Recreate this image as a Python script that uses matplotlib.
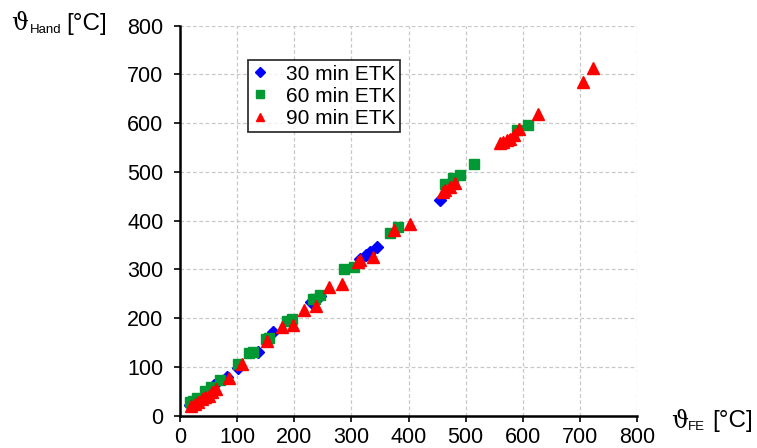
import matplotlib
matplotlib.use("Agg")
import matplotlib.pyplot as plt

plt.rcParams['font.family'] = ['Liberation Sans', 'DejaVu Sans']

# Temperatures: FE calculation (x) vs. hand calculation (y), in degC
etk30_fe = [18, 30, 45, 50, 60, 82, 102, 137, 163, 230, 245, 315, 325, 332, 344, 455]
etk30_hand = [22, 30, 48, 52, 62, 80, 97, 130, 172, 233, 245, 322, 330, 336, 346, 442]

etk60_fe = [17, 22, 30, 44, 55, 70, 102, 120, 128, 150, 155, 187, 196, 232, 236, 245,
            287, 305, 368, 382, 464, 478, 490, 514, 590, 610]
etk60_hand = [27, 30, 35, 51, 58, 72, 106, 128, 130, 158, 160, 195, 199, 240, 240, 247,
              300, 305, 375, 386, 475, 487, 494, 516, 586, 597]

etk90_fe = [20, 26, 32, 38, 44, 50, 56, 63, 86, 108, 152, 178, 198, 217, 238, 260,
            283, 312, 315, 337, 374, 402, 461, 463, 473, 482, 560, 566, 572, 578, 584,
            594, 627, 705, 723]
etk90_hand = [20, 24, 28, 34, 38, 41, 48, 55, 76, 106, 152, 182, 185, 217, 224, 263,
              270, 315, 319, 326, 381, 393, 459, 463, 470, 477, 559, 562, 566, 568, 576,
              588, 619, 684, 713]

series_labels = ['30 min ETK', '60 min ETK', '90 min ETK']
ticks = [0, 100, 200, 300, 400, 500, 600, 700, 800]

fig = plt.figure(figsize=(7.57, 4.48), dpi=100)
ax = fig.add_axes([0.2378, 0.0725, 0.6037, 0.870])

ax.plot(etk30_fe, etk30_hand, linestyle='none', marker='D', ms=6.5,
        color='#0000FF', label=series_labels[0], zorder=3)
ax.plot(etk60_fe, etk60_hand, linestyle='none', marker='s', ms=7,
        color='#009933', label=series_labels[1], zorder=4)
ax.plot(etk90_fe, etk90_hand, linestyle='none', marker='^', ms=8.5,
        color='#FF0000', label=series_labels[2], zorder=5)

ax.set_xlim(0, 800)
ax.set_ylim(0, 800)
ax.set_xticks(ticks)
ax.set_yticks(ticks)
ax.tick_params(direction='out', length=4, width=1.2, labelsize=15.5, pad=8,
               colors='black')
ax.tick_params(axis='x', pad=4)
ax.grid(True, color='#c8c8c8', linestyle=(0, (3, 2)), linewidth=0.9, zorder=0)
ax.set_axisbelow(True)
for side in ('top', 'right'):
    ax.spines[side].set_visible(False)
for side in ('left', 'bottom'):
    ax.spines[side].set_linewidth(1.8)
    ax.spines[side].set_zorder(6)

leg = ax.legend(loc='upper left', bbox_to_anchor=(0.148, 0.912), fontsize=15,
                frameon=True, fancybox=False, edgecolor='black',
                handlelength=0.7, handletextpad=0.9, borderpad=0.22,
                labelspacing=0.15, borderaxespad=0, markerscale=0.75)
leg.get_frame().set_linewidth(1.3)

# Axis titles with subscripts
fig.text(11 / 757, 1 - 24 / 448, 'ϑ', fontsize=17, va='center', ha='left',
         family=['DejaVu Serif'])
fig.text(30 / 757, 1 - 30 / 448, 'Hand', fontsize=9.5, va='center', ha='left')
fig.text(66 / 757, 1 - 24 / 448, '[°C]', fontsize=17.5, va='center', ha='left')

fig.text(671 / 757, 1 - 421 / 448, 'ϑ', fontsize=17, va='center', ha='left',
         family=['DejaVu Serif'])
fig.text(688 / 757, 1 - 427 / 448, 'FE', fontsize=9.5, va='center', ha='left')
fig.text(712 / 757, 1 - 421 / 448, '[°C]', fontsize=17.5, va='center', ha='left')

fig.savefig('out.png', dpi=100)
